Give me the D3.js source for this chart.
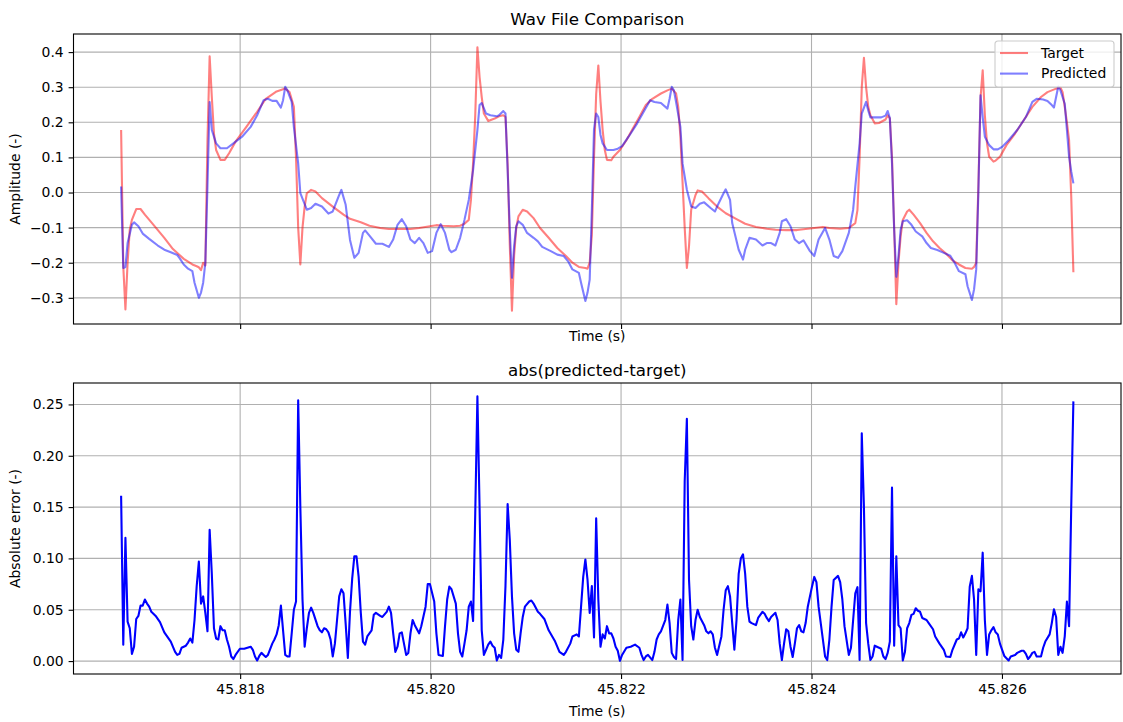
<!DOCTYPE html>
<html>
<head>
<meta charset="utf-8">
<script src="https://cdn.jsdelivr.net/npm/d3@7"></script>
<style>
  html, body { margin: 0; padding: 0; background: #fff; }
  svg { display: block; font-family: "DejaVu Sans", sans-serif; }
</style>
</head>
<body>
<svg id="chart" width="1123" height="722"></svg>
<script>
// Audio clip: sample index within the clip and amplitude.
const sampleRate = 44100;
const clipStart = 45.81675; // seconds

const target = [[0,0.178],[1,-0.210],[2,-0.333],[3,-0.20],[4,-0.106],[5,-0.078],[7,-0.047],[9,-0.047],[11,-0.063],[15,-0.092],[20,-0.129],[24,-0.161],[29,-0.189],[33,-0.205],[35,-0.210],[36,-0.213],[37,-0.221],[38,-0.200],[39,-0.208],[40,0.15],[41,0.388],[42,0.272],[43,0.168],[44,0.121],[46,0.093],[48,0.093],[50,0.112],[53,0.145],[58,0.187],[63,0.230],[67,0.267],[72,0.288],[76,0.296],[78,0.286],[80,0.244],[81,0.10],[82,-0.10],[83,-0.205],[84,-0.10],[85,-0.04],[86,-0.002],[88,0.0075],[90,0.003],[93,-0.016],[98,-0.040],[103,-0.063],[106,-0.075],[111,-0.085],[115,-0.0945],[120,-0.101],[124,-0.104],[129,-0.104],[134,-0.104],[138,-0.101],[143,-0.096],[146,-0.093],[149,-0.0945],[154,-0.096],[157,-0.0945],[159,-0.089],[161,-0.078],[162,-0.021],[163,0.083],[164,0.22],[165,0.414],[166,0.329],[167,0.272],[168,0.225],[170,0.204],[173,0.211],[175,0.217],[177,0.220],[178,0.215],[179,0.08],[180,-0.15],[181,-0.337],[182,-0.18],[183,-0.10],[184,-0.068],[186,-0.049],[188,-0.054],[191,-0.073],[194,-0.101],[198,-0.129],[202,-0.158],[206,-0.181],[209,-0.200],[212,-0.212],[215,-0.215],[216,-0.217],[217,-0.20],[218,-0.12],[219,0.10],[220,0.28],[221,0.362],[222,0.26],[223,0.178],[224,0.121],[225,0.093],[227,0.092],[228,0.102],[231,0.121],[234,0.149],[237,0.182],[240,0.215],[243,0.249],[246,0.267],[250,0.282],[253,0.291],[255,0.296],[257,0.282],[258,0.244],[259,0.16],[260,0.03],[261,-0.10],[262,-0.215],[263,-0.153],[264,-0.049],[266,-0.007],[267,0.006],[269,0.003],[272,-0.016],[276,-0.040],[280,-0.059],[285,-0.076],[289,-0.089],[294,-0.098],[299,-0.103],[303,-0.106],[308,-0.107],[313,-0.107],[317,-0.104],[321,-0.101],[325,-0.098],[328,-0.101],[333,-0.103],[337,-0.101],[340,-0.087],[341,-0.05],[342,0.10],[343,0.30],[344,0.384],[345,0.30],[346,0.244],[347,0.22],[349,0.197],[351,0.198],[354,0.208],[355,0.220],[356,0.211],[357,0.10],[358,-0.10],[359,-0.318],[360,-0.20],[361,-0.125],[362,-0.078],[364,-0.054],[365,-0.049],[367,-0.063],[370,-0.087],[373,-0.115],[376,-0.139],[379,-0.158],[382,-0.174],[385,-0.193],[388,-0.205],[391,-0.215],[394,-0.217],[395,-0.212],[396,-0.200],[397,0.02],[398,0.27],[399,0.348],[400,0.22],[401,0.140],[402,0.102],[404,0.088],[405,0.091],[407,0.102],[410,0.135],[414,0.168],[418,0.206],[422,0.244],[426,0.272],[429,0.286],[433,0.296],[435,0.299],[436,0.286],[437,0.244],[438,0.20],[439,0.149],[440,-0.011],[441,-0.227]];

const predicted = [[0,0.017],[1,-0.215],[2,-0.212],[3,-0.144],[5,-0.092],[6,-0.085],[8,-0.096],[10,-0.117],[13,-0.132],[17,-0.151],[20,-0.163],[23,-0.170],[26,-0.178],[27,-0.186],[29,-0.205],[31,-0.217],[33,-0.224],[34,-0.257],[36,-0.300],[37,-0.285],[38,-0.257],[39,-0.200],[40,0.02],[41,0.258],[42,0.178],[44,0.140],[46,0.126],[49,0.126],[52,0.140],[56,0.159],[60,0.187],[63,0.220],[66,0.263],[68,0.267],[70,0.261],[72,0.261],[74,0.242],[75,0.263],[76,0.301],[77,0.291],[79,0.258],[80,0.187],[82,0.083],[83,-0.002],[86,-0.049],[88,-0.044],[90,-0.032],[93,-0.040],[96,-0.060],[98,-0.054],[101,-0.007],[102,0.0075],[104,-0.035],[106,-0.135],[108,-0.186],[110,-0.172],[112,-0.115],[113,-0.108],[115,-0.123],[118,-0.146],[121,-0.146],[124,-0.155],[126,-0.134],[128,-0.092],[130,-0.076],[132,-0.096],[134,-0.134],[136,-0.144],[138,-0.129],[140,-0.144],[142,-0.172],[144,-0.167],[146,-0.115],[148,-0.090],[150,-0.115],[152,-0.163],[153,-0.170],[155,-0.163],[157,-0.129],[159,-0.078],[161,-0.021],[163,0.064],[165,0.178],[166,0.249],[167,0.255],[169,0.225],[171,0.220],[174,0.217],[175,0.220],[177,0.232],[178,0.225],[179,0.064],[180,-0.106],[181,-0.243],[182,-0.153],[183,-0.096],[184,-0.082],[186,-0.092],[188,-0.115],[191,-0.129],[193,-0.139],[195,-0.155],[199,-0.167],[202,-0.177],[205,-0.181],[207,-0.196],[209,-0.219],[212,-0.229],[213,-0.257],[215,-0.309],[216,-0.285],[217,-0.248],[218,-0.05],[219,0.18],[220,0.225],[221,0.215],[222,0.164],[223,0.140],[225,0.121],[228,0.121],[230,0.125],[232,0.132],[235,0.159],[239,0.197],[242,0.230],[245,0.263],[247,0.258],[250,0.255],[253,0.239],[254,0.267],[255,0.301],[256,0.291],[257,0.258],[259,0.187],[260,0.083],[262,0.008],[264,-0.040],[266,-0.044],[268,-0.032],[270,-0.028],[273,-0.044],[275,-0.054],[276,-0.040],[279,-0.002],[280,0.009],[282,-0.021],[283,-0.087],[286,-0.163],[288,-0.191],[289,-0.163],[291,-0.129],[294,-0.134],[297,-0.151],[299,-0.144],[301,-0.144],[303,-0.151],[305,-0.115],[306,-0.082],[308,-0.076],[310,-0.096],[312,-0.134],[314,-0.144],[316,-0.136],[319,-0.167],[321,-0.181],[323,-0.134],[326,-0.101],[328,-0.134],[330,-0.181],[332,-0.186],[334,-0.167],[337,-0.115],[339,-0.049],[340,0.017],[342,0.140],[343,0.225],[345,0.258],[346,0.234],[347,0.214],[350,0.214],[352,0.214],[354,0.219],[355,0.232],[356,0.212],[357,0.083],[358,-0.106],[359,-0.240],[360,-0.181],[361,-0.106],[362,-0.082],[364,-0.079],[366,-0.092],[368,-0.111],[371,-0.125],[373,-0.144],[375,-0.158],[378,-0.164],[381,-0.172],[384,-0.180],[386,-0.200],[388,-0.224],[391,-0.233],[392,-0.267],[394,-0.306],[395,-0.276],[396,-0.219],[397,0.0],[398,0.277],[399,0.215],[400,0.159],[402,0.135],[404,0.123],[406,0.123],[408,0.130],[411,0.149],[415,0.178],[419,0.215],[422,0.258],[424,0.267],[427,0.265],[429,0.261],[431,0.249],[432,0.242],[433,0.272],[434,0.302],[435,0.291],[437,0.253],[438,0.178],[439,0.102],[440,0.06],[441,0.026]];

const absError = [[0,0.161],[1,0.016],[2,0.120],[3,0.0385],[4,0.032],[5,0.007],[6,0.014],[7,0.041],[8,0.044],[9,0.054],[10,0.054],[11,0.060],[12,0.056],[13,0.053],[14,0.048],[16,0.044],[18,0.038],[20,0.028],[23,0.019],[25,0.009],[26,0.006],[27,0.007],[28,0.013],[30,0.015],[31,0.018],[32,0.022],[33,0.018],[34,0.040],[35,0.073],[36,0.097],[37,0.056],[38,0.063],[39,0.047],[40,0.029],[41,0.128],[42,0.085],[43,0.032],[44,0.022],[45,0.021],[46,0.034],[47,0.030],[48,0.030],[49,0.021],[50,0.014],[51,0.0045],[52,0.002],[53,0.006],[55,0.012],[57,0.012],[60,0.014],[61,0.011],[62,0.0045],[63,0.0006],[64,0.005],[65,0.008],[66,0.006],[67,0.004],[68,0.006],[70,0.017],[71,0.021],[72,0.026],[73,0.035],[74,0.054],[75,0.030],[76,0.006],[77,0.0045],[78,0.0045],[79,0.027],[80,0.050],[81,0.058],[82,0.254],[83,0.15],[84,0.06],[85,0.014],[86,0.032],[87,0.047],[88,0.052],[89,0.047],[91,0.034],[92,0.030],[93,0.028],[94,0.032],[95,0.031],[96,0.028],[97,0.021],[98,0.0045],[99,0.017],[100,0.040],[101,0.063],[102,0.070],[103,0.066],[104,0.036],[105,0.003],[106,0.048],[107,0.080],[108,0.102],[109,0.102],[110,0.082],[111,0.047],[112,0.019],[113,0.016],[114,0.024],[116,0.030],[117,0.045],[118,0.047],[120,0.044],[121,0.043],[123,0.048],[124,0.053],[125,0.047],[126,0.027],[127,0.009],[128,0.014],[129,0.027],[130,0.028],[131,0.017],[132,0.006],[133,0.008],[134,0.027],[135,0.040],[136,0.035],[138,0.027],[139,0.034],[141,0.053],[142,0.075],[143,0.075],[145,0.058],[146,0.027],[147,0.006],[149,0.005],[150,0.034],[151,0.060],[152,0.0725],[153,0.070],[155,0.056],[156,0.027],[157,0.009],[158,0.0045],[159,0.017],[160,0.030],[161,0.053],[162,0.058],[163,0.039],[164,0.144],[165,0.258],[166,0.150],[167,0.030],[168,0.006],[169,0.011],[170,0.016],[171,0.019],[172,0.015],[173,0.013],[174,0.0006],[175,0.006],[176,0.003],[177,0.021],[178,0.073],[179,0.153],[180,0.118],[181,0.063],[182,0.027],[183,0.011],[184,0.009],[185,0.027],[186,0.043],[187,0.053],[189,0.058],[190,0.059],[191,0.056],[193,0.048],[194,0.046],[196,0.041],[198,0.030],[201,0.019],[203,0.009],[205,0.006],[206,0.009],[208,0.017],[209,0.024],[211,0.026],[212,0.024],[213,0.053],[214,0.082],[215,0.099],[216,0.079],[217,0.047],[218,0.073],[219,0.023],[220,0.139],[221,0.060],[222,0.014],[223,0.026],[224,0.022],[225,0.034],[226,0.027],[227,0.027],[228,0.022],[229,0.014],[230,0.010],[231,0.0003],[232,0.006],[234,0.013],[236,0.014],[238,0.016],[240,0.013],[241,0.006],[242,0.001],[243,0.0045],[244,0.006],[246,0.001],[247,0.009],[248,0.021],[249,0.026],[250,0.029],[252,0.040],[253,0.055],[254,0.037],[255,0.008],[256,0.004],[257,0.002],[258,0.040],[259,0.060],[260,0.001],[261,0.175],[262,0.236],[263,0.079],[264,0.034],[265,0.021],[266,0.040],[267,0.050],[268,0.043],[270,0.035],[271,0.029],[272,0.027],[273,0.029],[274,0.026],[275,0.013],[276,0.006],[278,0.024],[279,0.050],[280,0.069],[281,0.073],[282,0.063],[283,0.037],[284,0.011],[285,0.040],[286,0.085],[287,0.100],[288,0.104],[289,0.085],[290,0.053],[291,0.0385],[292,0.037],[294,0.035],[295,0.042],[297,0.048],[298,0.046],[299,0.042],[300,0.039],[301,0.043],[303,0.047],[304,0.040],[305,0.017],[306,0.001],[307,0.017],[308,0.031],[309,0.029],[310,0.014],[311,0.004],[312,0.017],[313,0.032],[314,0.035],[315,0.029],[316,0.028],[317,0.037],[318,0.053],[320,0.073],[321,0.082],[322,0.077],[323,0.053],[325,0.021],[326,0.0045],[327,0.001],[328,0.021],[329,0.053],[330,0.079],[332,0.083],[333,0.077],[334,0.060],[335,0.034],[337,0.006],[338,0.013],[339,0.040],[340,0.066],[341,0.072],[342,0.001],[343,0.222],[344,0.150],[345,0.037],[346,0.017],[347,0.001],[348,0.0045],[349,0.015],[350,0.014],[352,0.012],[353,0.0045],[354,0.002],[355,0.008],[356,0.019],[357,0.169],[358,0.015],[359,0.102],[360,0.035],[361,0.032],[362,0.0006],[363,0.009],[364,0.032],[365,0.037],[366,0.045],[367,0.046],[368,0.0515],[369,0.049],[370,0.048],[371,0.042],[373,0.040],[374,0.037],[376,0.031],[377,0.024],[379,0.017],[381,0.011],[382,0.0045],[384,0.004],[385,0.011],[387,0.021],[388,0.022],[389,0.028],[390,0.023],[391,0.027],[392,0.032],[393,0.0725],[394,0.083],[395,0.060],[396,0.006],[397,0.070],[398,0.068],[399,0.1056],[400,0.040],[401,0.006],[402,0.026],[403,0.030],[404,0.033],[405,0.028],[406,0.026],[407,0.017],[408,0.011],[409,0.005],[411,0.0006],[412,0.0045],[414,0.006],[415,0.008],[417,0.010],[418,0.010],[419,0.007],[420,0.002],[421,0.0045],[422,0.008],[423,0.009],[424,0.0045],[426,0.0045],[427,0.013],[428,0.019],[430,0.026],[431,0.037],[432,0.0505],[433,0.043],[434,0.006],[435,0.014],[436,0.008],[437,0.024],[438,0.058],[439,0.034],[440,0.15],[441,0.253]];

const timeTicks = [45.818, 45.820, 45.822, 45.824, 45.826];
const amplitudeTicks = [-0.3, -0.2, -0.1, 0.0, 0.1, 0.2, 0.3, 0.4];
const errorTicks = [0.00, 0.05, 0.10, 0.15, 0.20, 0.25];
const legendLabels = ["Target", "Predicted"];

// ---- layout ----
const svg = d3.select("#chart");
const W = 1123, H = 722;
const left = 73.5, right = 1121;
const topPanel = { top: 34, bottom: 324 };
const botPanel = { top: 383, bottom: 674 };
const tickFont = 13.9, titleFont = 16.7;
const gridColor = "#b0b0b0";

const toTime = i => clipStart + i / sampleRate;

function padded(lo, hi) {
  const m = (hi - lo) * 0.05;
  return [lo - m, hi + m];
}

const allTimes = target.map(d => toTime(d[0]));
const x = d3.scaleLinear()
  .domain(padded(d3.min(allTimes), d3.max(allTimes)))
  .range([left, right]);

const ampVals = target.concat(predicted).map(d => d[1]);
const yTop = d3.scaleLinear()
  .domain(padded(d3.min(ampVals), d3.max(ampVals)))
  .range([topPanel.bottom, topPanel.top]);

const errVals = absError.map(d => d[1]);
const yBot = d3.scaleLinear()
  .domain(padded(d3.min(errVals), d3.max(errVals)))
  .range([botPanel.bottom, botPanel.top]);

const minusFmt = f => v => d3.format(f)(v).replace("-", "\u2212");

function panel(g, y, p, yTicks, yFmt, showXLabels) {
  // grid
  g.append("g").selectAll("line").data(timeTicks).join("line")
    .attr("x1", d => x(d)).attr("x2", d => x(d))
    .attr("y1", p.top).attr("y2", p.bottom)
    .attr("stroke", gridColor).attr("stroke-width", 1.1);
  g.append("g").selectAll("line").data(yTicks).join("line")
    .attr("x1", left).attr("x2", right)
    .attr("y1", d => y(d)).attr("y2", d => y(d))
    .attr("stroke", gridColor).attr("stroke-width", 1.1);

  // axes
  const xAxis = d3.axisBottom(x).tickValues(timeTicks)
    .tickSize(4.9).tickPadding(4.9)
    .tickFormat(showXLabels ? d3.format(".3f") : () => "");
  const gx = g.append("g").attr("transform", `translate(0,${p.bottom})`).call(xAxis);
  const yAxis = d3.axisLeft(y).tickValues(yTicks)
    .tickSize(4.9).tickPadding(4.9).tickFormat(minusFmt(yFmt));
  const gy = g.append("g").attr("transform", `translate(${left},0)`).call(yAxis);
  [gx, gy].forEach(a => {
    a.select(".domain").remove();
    a.selectAll("line").attr("stroke", "#000").attr("stroke-width", 1.1);
    a.selectAll("text").attr("fill", "#000")
      .style("font-size", tickFont + "px")
      .style("font-family", "DejaVu Sans, sans-serif");
  });
}

function frame(g, p) {
  g.append("rect")
    .attr("x", left).attr("y", p.top)
    .attr("width", right - left).attr("height", p.bottom - p.top)
    .attr("fill", "none").attr("stroke", "#000").attr("stroke-width", 1.1);
}

const gTop = svg.append("g");
const gBot = svg.append("g");
panel(gTop, yTop, topPanel, amplitudeTicks, ".1f", false);
panel(gBot, yBot, botPanel, errorTicks, ".2f", true);

// series
const lineTop = d3.line().x(d => x(toTime(d[0]))).y(d => yTop(d[1]));
const lineBot = d3.line().x(d => x(toTime(d[0]))).y(d => yBot(d[1]));

const series = [
  { name: legendLabels[0], data: target, color: "#ff0000" },
  { name: legendLabels[1], data: predicted, color: "#0000ff" }
];
series.forEach(s => {
  gTop.append("path").datum(s.data)
    .attr("d", lineTop).attr("fill", "none")
    .attr("stroke", s.color).attr("stroke-opacity", 0.5)
    .attr("stroke-width", 2.1).attr("stroke-linejoin", "round");
});

gBot.append("path").datum(absError)
  .attr("d", lineBot).attr("fill", "none")
  .attr("stroke", "#0000ff").attr("stroke-width", 2.1)
  .attr("stroke-linejoin", "round");

frame(gTop, topPanel);
frame(gBot, botPanel);

// titles and axis labels
const cx = (left + right) / 2;
svg.append("text").attr("x", cx).attr("y", 25).attr("text-anchor", "middle")
  .style("font-size", titleFont + "px").text("Wav File Comparison");
svg.append("text").attr("x", cx).attr("y", 376).attr("text-anchor", "middle")
  .style("font-size", titleFont + "px").text("abs(predicted-target)");
svg.append("text").attr("x", cx).attr("y", 341).attr("text-anchor", "middle")
  .style("font-size", tickFont + "px").text("Time (s)");
svg.append("text").attr("x", cx).attr("y", 716).attr("text-anchor", "middle")
  .style("font-size", tickFont + "px").text("Time (s)");
svg.append("text").attr("transform", `translate(20,${(topPanel.top + topPanel.bottom) / 2}) rotate(-90)`)
  .attr("text-anchor", "middle").style("font-size", tickFont + "px").text("Amplitude (-)");
svg.append("text").attr("transform", `translate(20,${(botPanel.top + botPanel.bottom) / 2}) rotate(-90)`)
  .attr("text-anchor", "middle").style("font-size", tickFont + "px").text("Absolute error (-)");

// legend
const lg = svg.append("g").attr("transform", "translate(995,41)");
lg.append("rect").attr("width", 119).attr("height", 46).attr("rx", 3)
  .attr("fill", "#fff").attr("fill-opacity", 0.8)
  .attr("stroke", "#cccccc").attr("stroke-width", 1.1);
series.forEach((s, k) => {
  const yy = 12 + k * 20.6;
  lg.append("line").attr("x1", 5).attr("x2", 33).attr("y1", yy).attr("y2", yy)
    .attr("stroke", s.color).attr("stroke-opacity", 0.5).attr("stroke-width", 2.1);
  lg.append("text").attr("x", 46).attr("y", yy).attr("dy", "0.35em")
    .style("font-size", tickFont + "px").text(s.name);
});
</script>
</body>
</html>
